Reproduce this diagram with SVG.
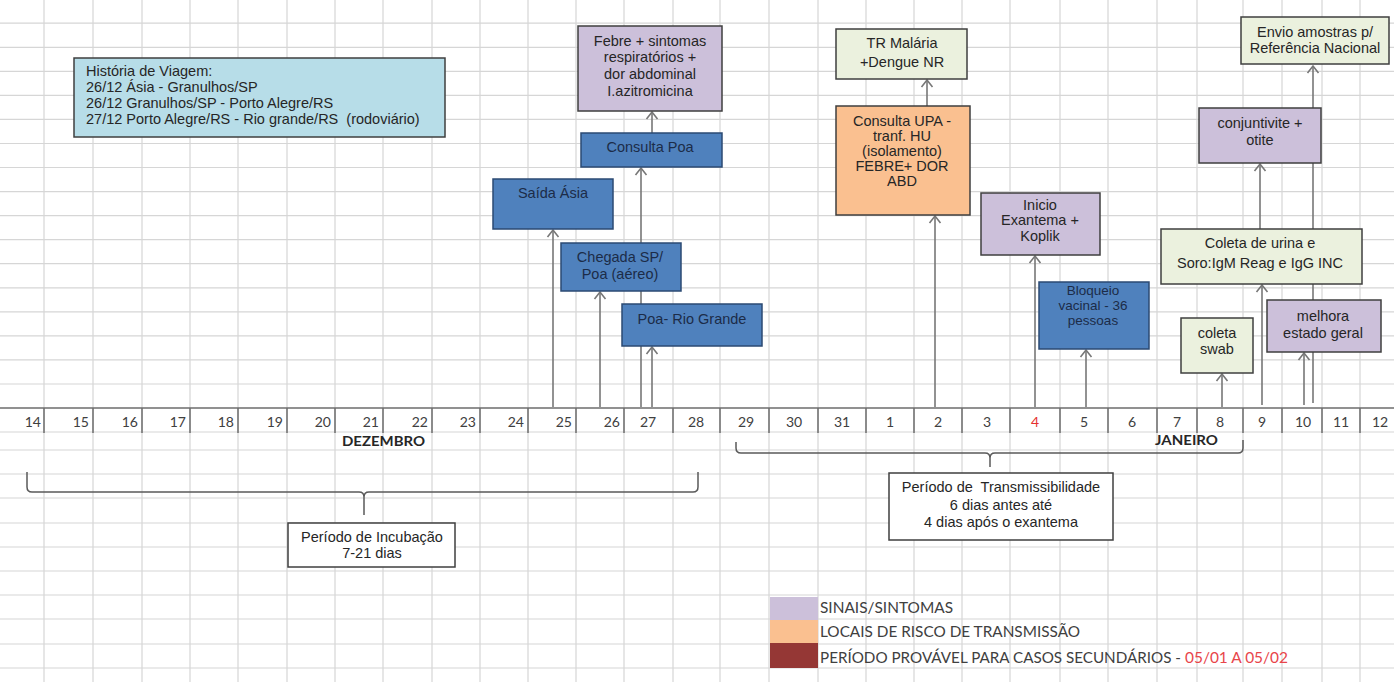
<svg xmlns="http://www.w3.org/2000/svg" width="1394" height="682" viewBox="0 0 1394 682">
<style>
.grid{stroke:#d6d6d6;stroke-width:1.2;fill:none}
.axisline{stroke:#6e6e6e;stroke-width:1.5;fill:none}
.day{font-family:Lato,"Liberation Sans",sans-serif;font-size:14px;fill:#404040}
.red{fill:#e53030}
.month{font-family:Lato,"Liberation Sans",sans-serif;font-size:13px;font-weight:bold;fill:#262626}
.box{stroke:#3f3f3f;stroke-width:1.5}
.blue{fill:#4f81bd;stroke:#2b4a73;stroke-width:1.5}
.lav{fill:#ccc0da}
.green{fill:#ebf1de}
.peach{fill:#fac090}
.cyan{fill:#b7dde8}
.white{fill:#ffffff}
.t{font-family:"Liberation Sans",Arial,sans-serif;font-size:14.5px;fill:#262626;text-anchor:middle;white-space:pre}
.tl{font-family:"Liberation Sans",Arial,sans-serif;font-size:14.5px;fill:#262626;white-space:pre}
.tb{font-family:"Liberation Sans",Arial,sans-serif;font-size:14.5px;fill:#1c2c48;text-anchor:middle}
.tbs{font-family:"Liberation Sans",Arial,sans-serif;font-size:13.5px;fill:#1c2c48;text-anchor:middle}
.conn{stroke:#777777;stroke-width:1.6;fill:none;marker-end:url(#arr)}
.brace{stroke:#5a5a5a;stroke-width:1.5;fill:none}
.leg{font-family:Lato,"Liberation Sans",sans-serif;font-size:15px;fill:#404040}
.legred{font-family:Lato,"Liberation Sans",sans-serif;font-size:15px;fill:#e8454a}
</style>
<defs>
<marker id="arr" viewBox="-8 -8 10 16" markerUnits="userSpaceOnUse" markerWidth="10" markerHeight="16" refX="0" refY="0" orient="auto">
<path d="M-7,-5.5 L0,0 L-7,5.5" fill="none" stroke="#777777" stroke-width="1.6"/>
</marker>
</defs>
<rect x="0" y="0" width="1394" height="682" fill="#ffffff"/>
<g id="grid">
<path class="grid" d="M44,0V682M93,0V682M142,0V682M190,0V682M238,0V682M287,0V682M335,0V682M383,0V682M432,0V682M480,0V682M528,0V682M576,0V682M624,0V682M673,0V682M720,0V682M769,0V682M818,0V682M866,0V682M914,0V682M962,0V682M1010,0V682M1060,0V682M1108,0V682M1157,0V682M1197,0V682M1243,0V682M1282,0V682M1322,0V682M1360,0V682"/>
<path class="grid" d="M0,23.2H1394M0,47.3H1394M0,71.3H1394M0,95.4H1394M0,119.4H1394M0,143.5H1394M0,167.5H1394M0,191.6H1394M0,215.6H1394M0,239.7H1394M0,263.7H1394M0,287.8H1394M0,311.8H1394M0,335.9H1394M0,359.9H1394M0,384H1394M0,432H1394M0,450H1394M0,474H1394M0,498H1394M0,523H1394M0,547H1394M0,571H1394M0,595H1394M0,619H1394M0,644H1394M0,668H1394"/>
</g>
<g id="axis">
<path class="axisline" d="M0,408H1394M44,408V433M93,408V433M142,408V433M190,408V433M238,408V433M287,408V433M335,408V433M383,408V433M432,408V433M480,408V433M528,408V433M576,408V433M624,408V433M673,408V433M720,408V433M769,408V433M818,408V433M866,408V433M914,408V433M962,408V433M1010,408V433M1060,408V433M1108,408V433M1157,408V433M1197,408V433M1243,408V433M1282,408V433M1322,408V433M1360,408V433"/>
<g class="day" text-anchor="end">
<text x="41" y="427">14</text><text x="89" y="427">15</text><text x="138" y="427">16</text><text x="186" y="427">17</text><text x="234" y="427">18</text><text x="283" y="427">19</text><text x="331" y="427">20</text><text x="379" y="427">21</text><text x="428" y="427">22</text><text x="476" y="427">23</text><text x="524" y="427">24</text><text x="572" y="427">25</text><text x="620" y="427">26</text>
</g>
<g class="day" text-anchor="middle">
<text x="648" y="427">27</text><text x="696" y="427">28</text><text x="746" y="427">29</text><text x="794" y="427">30</text><text x="842" y="427">31</text><text x="890" y="427">1</text><text x="938" y="427">2</text><text x="987" y="427">3</text><text class="red" x="1035" y="427">4</text><text x="1084" y="427">5</text><text x="1132" y="427">6</text><text x="1177" y="427">7</text><text x="1220" y="427">8</text><text x="1262" y="427">9</text><text x="1303" y="427">10</text><text x="1341" y="427">11</text><text x="1380" y="427">12</text>
</g>
<text class="month" x="342" y="446" textLength="83" lengthAdjust="spacingAndGlyphs">DEZEMBRO</text>
<text class="month" x="1155" y="445" textLength="63" lengthAdjust="spacingAndGlyphs">JANEIRO</text>
</g>
<g id="connectors">
<path class="conn" d="M553,407V230"/>
<path class="conn" d="M600,407V292"/>
<path class="conn" d="M641,407V168"/>
<path class="conn" d="M652,407V347"/>
<path class="conn" d="M652,133V112"/>
<path class="conn" d="M935,407V216"/>
<path class="conn" d="M927,106V80"/>
<path class="conn" d="M1035,407V256"/>
<path class="conn" d="M1086,407V350"/>
<path class="conn" d="M1222,407V374"/>
<path class="conn" d="M1262,405V285"/>
<path class="conn" d="M1260,229V164"/>
<path class="conn" d="M1304,405V353"/>
<path class="conn" d="M1313,403V66"/>
</g>
<g id="historia">
<rect class="box cyan" x="74" y="58" width="371" height="79"/>
<text class="tl" x="86" y="76">História de Viagem:</text>
<text class="tl" x="86" y="92">26/12 Ásia - Granulhos/SP</text>
<text class="tl" x="86" y="108">26/12 Granulhos/SP - Porto Alegre/RS</text>
<text class="tl" x="86" y="124" xml:space="preserve">27/12 Porto Alegre/RS - Rio grande/RS  (rodoviário)</text>
</g>
<g id="febre">
<rect class="box lav" x="578" y="26" width="144" height="85"/>
<text class="t" x="650" y="46">Febre + sintomas</text>
<text class="t" x="650" y="62">respiratórios +</text>
<text class="t" x="650" y="79">dor abdominal</text>
<text class="t" x="650" y="96">I.azitromicina</text>
</g>
<g id="consulta-poa">
<rect class="blue" x="581" y="133" width="141" height="34"/>
<text class="tb" x="650" y="152">Consulta Poa</text>
</g>
<g id="saida-asia">
<rect class="blue" x="493" y="179" width="120" height="50"/>
<text class="tb" x="553" y="198">Saída Ásia</text>
</g>
<g id="chegada">
<rect class="blue" x="561" y="243" width="120" height="48"/>
<text class="tb" x="620" y="262">Chegada SP/</text>
<text class="tb" x="620" y="279">Poa (aéreo)</text>
</g>
<g id="poa-rio">
<rect class="blue" x="622" y="304" width="140" height="42"/>
<text class="tb" x="692" y="324">Poa- Rio Grande</text>
</g>
<g id="tr-malaria">
<rect class="box green" x="836" y="29" width="131" height="50"/>
<text class="t" x="902" y="48">TR Malária</text>
<text class="t" x="902" y="67">+Dengue NR</text>
</g>
<g id="upa">
<rect class="box peach" x="836" y="106" width="134" height="109"/>
<text class="t" x="902" y="126">Consulta UPA -</text>
<text class="t" x="902" y="141">tranf. HU</text>
<text class="t" x="902" y="156">(isolamento)</text>
<text class="t" x="902" y="171">FEBRE+ DOR</text>
<text class="t" x="902" y="186">ABD</text>
</g>
<g id="exantema">
<rect class="box lav" x="981" y="193" width="119" height="62"/>
<text class="t" x="1040" y="210">Inicio</text>
<text class="t" x="1040" y="225">Exantema +</text>
<text class="t" x="1040" y="241">Koplik</text>
</g>
<g id="bloqueio">
<rect class="blue" x="1039" y="282" width="110" height="67"/>
<text class="tbs" x="1093" y="295">Bloqueio</text>
<text class="tbs" x="1093" y="310">vacinal - 36</text>
<text class="tbs" x="1093" y="325">pessoas</text>
</g>
<g id="swab">
<rect class="box green" x="1181" y="318" width="72" height="55"/>
<text class="t" x="1217" y="338">coleta</text>
<text class="t" x="1217" y="354">swab</text>
</g>
<g id="urina">
<rect class="box green" x="1161" y="229" width="201" height="55"/>
<text class="t" x="1260" y="248">Coleta de urina e</text>
<text class="t" x="1260" y="268">Soro:IgM Reag e IgG INC</text>
</g>
<g id="melhora">
<rect class="box lav" x="1267" y="300" width="114" height="52"/>
<text class="t" x="1323" y="321">melhora</text>
<text class="t" x="1323" y="338">estado geral</text>
</g>
<g id="conjuntivite">
<rect class="box lav" x="1199" y="108" width="122" height="55"/>
<text class="t" x="1260" y="128">conjuntivite +</text>
<text class="t" x="1260" y="145">otite</text>
</g>
<g id="envio">
<rect class="box green" x="1241" y="17" width="148" height="47"/>
<text class="t" x="1315" y="37">Envio amostras p/</text>
<text class="t" x="1315" y="53">Referência Nacional</text>
</g>
<g id="incubacao">
<path class="brace" d="M27,472V487Q27,492 32,492H359Q364,492 364,497V515M364,497Q364,492 369,492H693Q698,492 698,487V472"/>
<rect class="box white" x="288" y="523" width="167" height="44"/>
<text class="t" x="372" y="542">Período de Incubação</text>
<text class="t" x="372" y="558">7-21 dias</text>
</g>
<g id="transmissibilidade">
<path class="brace" d="M736,442V448Q736,453 741,453H985Q990,453 990,458V467M990,458Q990,453 995,453H1238Q1243,453 1243,448V440"/>
<rect class="box white" x="889" y="473" width="224" height="67"/>
<text class="t" x="1001" y="492" xml:space="preserve">Período de  Transmissibilidade</text>
<text class="t" x="1001" y="510">6 dias antes até</text>
<text class="t" x="1001" y="527">4 dias após o exantema</text>
</g>
<g id="legenda">
<rect x="770" y="597" width="48" height="23" fill="#ccc0da"/>
<rect x="770" y="620" width="48" height="23" fill="#fac090"/>
<rect x="770" y="643" width="48" height="25" fill="#953735"/>
<text class="leg" x="820" y="613" textLength="133" lengthAdjust="spacingAndGlyphs">SINAIS/SINTOMAS</text>
<text class="leg" x="820" y="637" textLength="260" lengthAdjust="spacingAndGlyphs">LOCAIS DE RISCO DE TRANSMISSÃO</text>
<text class="leg" x="820" y="663" textLength="361" lengthAdjust="spacingAndGlyphs">PERÍODO PROVÁVEL PARA CASOS SECUNDÁRIOS -</text>
<text class="legred" x="1185" y="663" textLength="103" lengthAdjust="spacingAndGlyphs">05/01 A 05/02</text>
</g>
</svg>
